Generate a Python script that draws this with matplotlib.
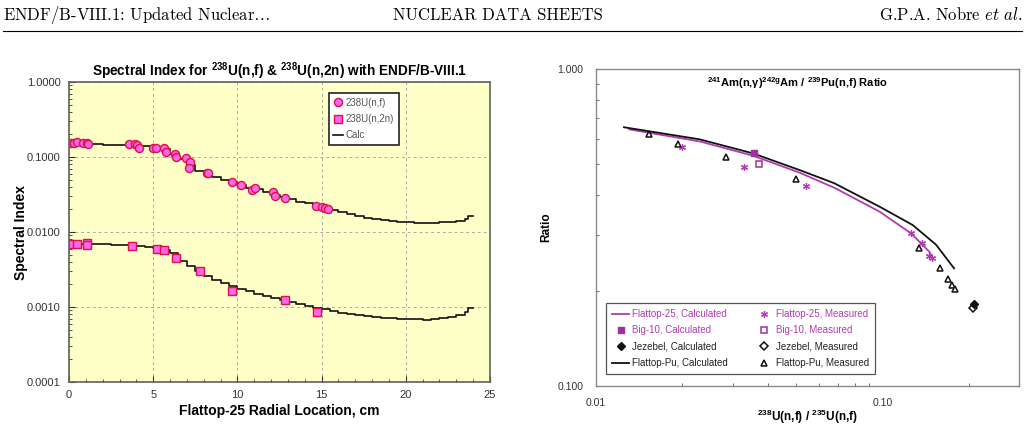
import matplotlib
matplotlib.use('Agg')
import matplotlib.pyplot as plt
import matplotlib.ticker as ticker
from matplotlib.lines import Line2D

plt.rcParams['font.family'] = ['Liberation Sans', 'DejaVu Sans']
plt.rcParams['mathtext.fontset'] = 'custom'
plt.rcParams['mathtext.rm'] = 'Liberation Sans'
plt.rcParams['mathtext.bf'] = 'Liberation Sans:bold'
plt.rcParams['mathtext.it'] = 'Liberation Sans:italic'

# ---- left panel: spectral index vs radius ----
fis_x = [0.1, 0.3, 0.49, 0.85, 1.05, 1.15, 3.58, 3.92, 4.06, 4.16, 5.0, 5.17, 5.64, 5.76,
         6.29, 6.35, 6.95, 7.19, 7.13, 8.18, 8.27, 9.66, 10.2, 10.85, 11.05, 12.1, 12.24,
         12.83, 14.67, 15.0, 15.2, 15.36]
fis_y = [0.152, 0.152, 0.157, 0.152, 0.155, 0.150, 0.149, 0.148, 0.145, 0.133, 0.133, 0.131,
         0.130, 0.118, 0.110, 0.101, 0.096, 0.087, 0.0706, 0.0605, 0.0605, 0.046, 0.042,
         0.0363, 0.039, 0.0338, 0.0305, 0.0287, 0.0224, 0.0213, 0.0207, 0.0203]

n2n_x = [0.06, 0.46, 1.09, 1.09, 3.72, 5.21, 5.64, 6.35, 7.78, 9.66, 12.83, 14.75]
n2n_y = [0.00686, 0.00699, 0.00721, 0.00671, 0.0065, 0.00593, 0.00575, 0.00454, 0.00305,
         0.00163, 0.00124, 0.000866]

calc_x = [0, 0.5, 1, 1.5, 2, 2.5, 3, 3.5, 4, 4.5, 5, 5.5, 6, 6.5, 7, 7.5, 8, 8.5, 9, 9.5,
          10, 10.5, 11, 11.5, 12, 12.5, 13, 13.5, 14, 14.5, 15, 15.5, 16, 16.5, 17, 17.5,
          18, 18.5, 19, 19.5, 20, 20.5, 21, 21.5, 22, 22.5, 23, 23.5, 23.7, 24]
fis_calc = [0.148, 0.148, 0.148, 0.147, 0.146, 0.146, 0.145, 0.144, 0.141, 0.139, 0.135,
            0.127, 0.110, 0.093, 0.078, 0.066, 0.059, 0.054, 0.049, 0.046, 0.042, 0.039,
            0.037, 0.034, 0.031, 0.029, 0.0275, 0.0255, 0.024, 0.0225, 0.021, 0.0195, 0.0182,
            0.0172, 0.0164, 0.0156, 0.015, 0.0145, 0.0141, 0.0138, 0.0135, 0.0133, 0.0132,
            0.0132, 0.0134, 0.0137, 0.0142, 0.0148, 0.0165, 0.0165]
n2n_calc = [0.0071, 0.0070, 0.0070, 0.0069, 0.0069, 0.0068, 0.0068, 0.0067, 0.0066, 0.0064,
            0.0061, 0.0058, 0.0052, 0.0041, 0.0035, 0.0030, 0.0026, 0.0023, 0.0021, 0.0019,
            0.00174, 0.00163, 0.00150, 0.00140, 0.00130, 0.00123, 0.00118, 0.00111, 0.00104,
            0.00098, 0.00093, 0.00088, 0.00084, 0.00081, 0.00078, 0.00076, 0.00074, 0.00072,
            0.00071, 0.00070, 0.00069, 0.00069, 0.00068, 0.00069, 0.00071, 0.00074, 0.00078,
            0.00085, 0.00098, 0.00098]

# ---- right panel: ratio vs ratio ----
f25_calc_x = [0.01306, 0.0230, 0.0353, 0.0514, 0.068, 0.0977, 0.126, 0.146, 0.150]
f25_calc_y = [0.645, 0.591, 0.533, 0.471, 0.422, 0.355, 0.303, 0.265, 0.253]
fpu_calc_x = [0.01252, 0.0230, 0.0353, 0.0514, 0.068, 0.0977, 0.1276, 0.154, 0.178]
fpu_calc_y = [0.655, 0.600, 0.542, 0.480, 0.436, 0.368, 0.322, 0.279, 0.235]
f25_meas_x = [0.020, 0.033, 0.054, 0.126, 0.138, 0.146, 0.149]
f25_meas_y = [0.566, 0.492, 0.427, 0.303, 0.282, 0.257, 0.253]
fpu_meas_x = [0.0153, 0.0194, 0.0285, 0.050, 0.134, 0.159, 0.169, 0.175, 0.180]
fpu_meas_y = [0.624, 0.578, 0.529, 0.449, 0.272, 0.235, 0.218, 0.208, 0.203]
big10_calc = (0.0356, 0.542)
big10_meas = (0.0371, 0.501)
jez_calc = (0.209, 0.182)
jez_meas = (0.208, 0.176)

W, H = 1029, 429
fig = plt.figure(figsize=(W / 100, H / 100), dpi=100)

# page header
hy = 1 - 20 / H
fig.text(3 / W, hy, r'ENDF/B-VIII.1: Updated Nuclear$\ldots$', family='cmr10',
         math_fontfamily='cm', fontsize=12, va='baseline')
fig.text(393 / W, hy, 'NUCLEAR DATA SHEETS', family='cmr10', fontsize=12, va='baseline')
fig.text(1022 / W, hy, r'G.P.A. Nobre $\mathit{et\ al.}$', family='cmr10',
         math_fontfamily='cm', fontsize=12, va='baseline', ha='right')
fig.add_artist(Line2D([3 / W, 1022 / W], [1 - 31 / H, 1 - 31 / H], color='black', lw=0.8))

# left
ax1 = fig.add_axes([69 / W, 47 / H, 421 / W, 300 / H])
ax1.set_facecolor('#ffffc8')
ax1.set_yscale('log')
ax1.set_xlim(0, 25)
ax1.set_ylim(1e-4, 1)
ax1.grid(True, which='major', ls=(0, (3, 3)), color='#aaaaaa', lw=0.7)
ax1.set_axisbelow(True)
l_calc, = ax1.step(calc_x, fis_calc, where='post', color='#111111', lw=1.2)
ax1.step(calc_x, n2n_calc, where='post', color='#111111', lw=1.2)
l_fis, = ax1.plot(fis_x, fis_y, 'o', ms=5.8, mfc='#ff66ee', mec='#dd1144', mew=1.0)
l_n2n, = ax1.plot(n2n_x, n2n_y, 's', ms=5.8, mfc='#ff66ee', mec='#dd1144', mew=1.0)
ax1.xaxis.set_major_locator(ticker.MultipleLocator(5))
ax1.xaxis.set_minor_locator(ticker.MultipleLocator(1))
ax1.yaxis.set_major_locator(ticker.LogLocator(base=10, numticks=10))
ax1.yaxis.set_minor_locator(ticker.LogLocator(base=10, subs=range(2, 10), numticks=20))
ax1.yaxis.set_major_formatter(ticker.FormatStrFormatter('%.4f'))
ax1.yaxis.set_minor_formatter(ticker.NullFormatter())
ax1.tick_params(which='both', direction='in', labelsize=8, colors='#333333')
ax1.tick_params(which='major', length=4)
ax1.tick_params(which='minor', length=2.5)
ax1.tick_params(axis='x', pad=6)
ax1.tick_params(axis='y', pad=6)
for s in ax1.spines.values():
    s.set_color('#606060')
    s.set_linewidth(1.2)
ax1.set_title(r'Spectral Index for $^{\mathbf{238}}$U(n,f) & $^{\mathbf{238}}$U(n,2n) with ENDF/B-VIII.1',
              fontweight='bold', fontsize=9.8, pad=4)
ax1.set_xlabel('Flattop-25 Radial Location, cm', fontweight='bold', fontsize=10)
ax1.set_ylabel('Spectral Index', fontweight='bold', fontsize=10)
ax1.xaxis.set_label_coords(0.5, -0.075)
ax1.yaxis.set_label_coords(-0.098, 0.5)
leg1 = ax1.legend([l_fis, l_n2n, l_calc], ['238U(n,f)', '238U(n,2n)', 'Calc'],
                  loc='upper left', bbox_to_anchor=(0.617, 0.962), fontsize=7,
                  fancybox=False, edgecolor='#222222', framealpha=1, handlelength=1.0,
                  handletextpad=0.3, borderpad=0.45, labelspacing=0.65, borderaxespad=0)
leg1.get_frame().set_linewidth(1.2)
for t in leg1.get_texts():
    t.set_color('#555555')

# right
mag = '#b23ab0'
mag_d = '#a0309a'
ax2 = fig.add_axes([596 / W, 43 / H, 423 / W, 317 / H])
ax2.set_xscale('log')
ax2.set_yscale('log')
ax2.set_xlim(0.01, 0.3)
ax2.set_ylim(0.1, 1.0)
h_f25c, = ax2.plot(f25_calc_x, f25_calc_y, color=mag, lw=1.3)
h_fpuc, = ax2.plot(fpu_calc_x, fpu_calc_y, color='#111111', lw=1.3)
h_f25m, = ax2.plot(f25_meas_x, f25_meas_y, ls='none', marker=(6, 2, 0), ms=5, color=mag, mew=0.9)
h_fpum, = ax2.plot(fpu_meas_x, fpu_meas_y, ls='none', marker='^', ms=5, mfc='white', mec='#111111', mew=1.1)
h_b10c, = ax2.plot([big10_calc[0]], [big10_calc[1]], ls='none', marker='s', ms=5, color=mag_d)
h_b10m, = ax2.plot([big10_meas[0]], [big10_meas[1]], ls='none', marker='s', ms=5, mfc='white', mec=mag_d, mew=1.1)
h_jzm, = ax2.plot([jez_meas[0]], [jez_meas[1]], ls='none', marker='D', ms=4, mfc='white', mec='#111111', mew=1.1)
h_jzc, = ax2.plot([jez_calc[0]], [jez_calc[1]], ls='none', marker='D', ms=4, color='#111111')
ax2.xaxis.set_major_locator(ticker.FixedLocator([0.01, 0.1]))
ax2.xaxis.set_major_formatter(ticker.FormatStrFormatter('%.2f'))
ax2.xaxis.set_minor_locator(ticker.LogLocator(base=10, subs=range(2, 10), numticks=20))
ax2.xaxis.set_minor_formatter(ticker.NullFormatter())
ax2.yaxis.set_major_locator(ticker.FixedLocator([0.1, 1.0]))
ax2.yaxis.set_major_formatter(ticker.FormatStrFormatter('%.3f'))
ax2.yaxis.set_minor_locator(ticker.LogLocator(base=10, subs=range(2, 10), numticks=20))
ax2.yaxis.set_minor_formatter(ticker.NullFormatter())
ax2.tick_params(which='both', direction='in', labelsize=7.5, colors='#555555', labelcolor='#333333')
ax2.tick_params(which='major', length=0, pad=9)
ax2.tick_params(which='minor', length=2.5)
for s in ax2.spines.values():
    s.set_color('#8a8a8a')
    s.set_linewidth(1.0)
ax2.text(0.4775, 0.955, r'$^{\mathbf{241}}$Am(n,γ)$^{\mathbf{242g}}$Am / $^{\mathbf{239}}$Pu(n,f) Ratio',
         transform=ax2.transAxes, ha='center', va='center', fontweight='bold', fontsize=8)
ax2.set_xlabel(r'$^{\mathbf{238}}$U(n,f) / $^{\mathbf{235}}$U(n,f)', fontweight='bold', fontsize=8.5)
ax2.set_ylabel('Ratio', fontweight='bold', fontsize=8.5)
ax2.xaxis.set_label_coords(0.5, -0.07)
ax2.yaxis.set_label_coords(-0.104, 0.5)
leg2 = ax2.legend([h_f25c, h_b10c, h_jzc, h_fpuc, h_f25m, h_b10m, h_jzm, h_fpum],
                  ['Flattop-25, Calculated', 'Big-10, Calculated', 'Jezebel, Calculated',
                   'Flattop-Pu, Calculated', 'Flattop-25, Measured', 'Big-10, Measured',
                   'Jezebel, Measured', 'Flattop-Pu, Measured'],
                  ncol=2, loc='lower left', bbox_to_anchor=(0.0236, 0.038), fontsize=7,
                  fancybox=False, edgecolor='#555555', framealpha=1, handlelength=1.8,
                  handletextpad=0.3, columnspacing=2.8, labelspacing=0.65, borderpad=0.6,
                  borderaxespad=0)
leg2.get_frame().set_linewidth(0.9)
for t, c in zip(leg2.get_texts(), [mag, mag, '#222222', '#222222', mag, mag, '#222222', '#222222']):
    t.set_color(c)

plt.savefig('out.png', dpi=100)
